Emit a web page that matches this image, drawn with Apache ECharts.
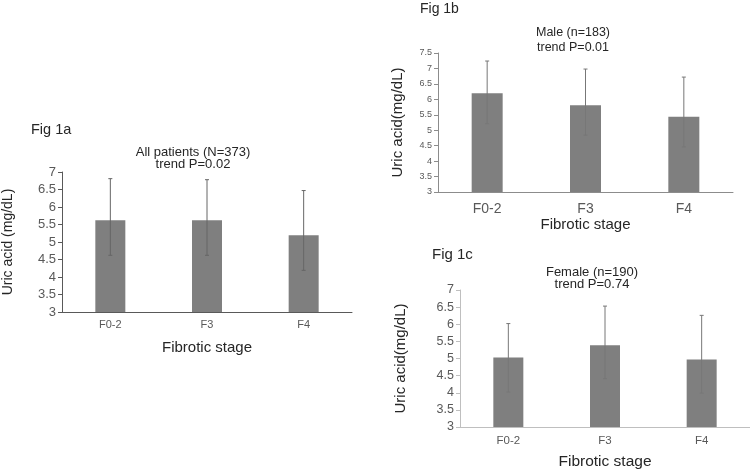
<!DOCTYPE html>
<html>
<head>
<meta charset="utf-8">
<script src="https://cdn.jsdelivr.net/npm/echarts@6/dist/echarts.min.js"></script>
<style>html,body{margin:0;padding:0;background:#fff}#c{width:750px;height:471px}</style>
</head>
<body>
<div id="c"></div>
<script>
var categories = ['F0-2', 'F3', 'F4'];
// Fig 1a: All patients
var meanA = [5.62, 5.62, 5.19];
var highA = [6.81, 6.78, 6.47];
var lowA  = [4.62, 4.62, 4.19];
// Fig 1b: Male
var meanB = [6.20, 5.81, 5.44];
var highB = [7.24, 6.98, 6.72];
var lowB  = [5.21, 4.84, 4.46];
// Fig 1c: Female
var meanC = [5.03, 5.39, 4.97];
var highC = [6.02, 6.53, 6.26];
var lowC  = [4.02, 4.41, 3.99];
var figLabels = ['Fig 1a', 'Fig 1b', 'Fig 1c'];
var titlesA = ['All patients (N=373)', 'trend P=0.02'];
var titlesB = ['Male (n=183)', 'trend P=0.01'];
var titlesC = ['Female (n=190)', 'trend P=0.74'];
var xName = 'Fibrotic stage';
var yNames = ['Uric acid (mg/dL)', 'Uric acid(mg/dL)', 'Uric acid(mg/dL)'];

var FONT = '"Liberation Sans", Arial, sans-serif';
var chart = echarts.init(document.getElementById('c'));

function errData(low, high) {
  return categories.map(function (c, i) { return [i, low[i], high[i]]; });
}
function errSeries(idx, low, high, color) {
  return {
    type: 'custom', xAxisIndex: idx, yAxisIndex: idx, z: 5,
    data: errData(low, high),
    renderItem: function (params, api) {
      var p1 = api.coord([api.value(0), api.value(1)]);
      var p2 = api.coord([api.value(0), api.value(2)]);
      var st = { stroke: color, lineWidth: 1 };
      return { type: 'group', children: [
        { type: 'line', shape: { x1: p1[0], y1: p1[1], x2: p2[0], y2: p2[1] }, style: st },
        { type: 'line', shape: { x1: p2[0] - 2, y1: p2[1], x2: p2[0] + 2, y2: p2[1] }, style: st },
        { type: 'line', shape: { x1: p1[0] - 2, y1: p1[1], x2: p1[0] + 2, y2: p1[1] }, style: st }
      ]};
    }
  };
}
function xAxis(idx, axisColor, labelSize, margin, nameSize, nameGap) {
  return {
    type: 'category', gridIndex: idx, data: categories,
    axisLine: { lineStyle: { color: axisColor } },
    axisTick: { lineStyle: { color: axisColor }, length: 4 },
    axisLabel: { color: '#595959', fontSize: labelSize, margin: margin, fontFamily: FONT },
    name: xName, nameLocation: 'middle', nameGap: nameGap,
    nameTextStyle: { color: '#262626', fontSize: nameSize, fontFamily: FONT }
  };
}
function yAxis(idx, max, axisColor, labelSize, nameIdx, nameSize, nameGap) {
  return {
    type: 'value', gridIndex: idx, min: 3, max: max, interval: 0.5,
    splitLine: { show: false },
    axisLine: { show: true, lineStyle: { color: axisColor } },
    axisTick: { show: true, lineStyle: { color: axisColor }, length: 4 },
    axisLabel: { color: '#595959', fontSize: labelSize, margin: 6, fontFamily: FONT },
    name: yNames[nameIdx], nameLocation: 'middle', nameGap: nameGap,
    nameTextStyle: { color: '#262626', fontSize: nameSize, fontFamily: FONT }
  };
}
function txt(t, x, y, size, color) {
  return { type: 'text', x: x, y: y, style: { text: t, x: 0, y: 0, fill: color || '#262626', fontSize: size, fontFamily: FONT, align: 'center', verticalAlign: 'middle' } };
}
function txtL(t, x, y, size) {
  return { type: 'text', x: x, y: y, style: { text: t, fill: '#262626', fontSize: size, fontFamily: FONT, align: 'left', verticalAlign: 'middle' } };
}

var barColor = '#7f7f7f';
chart.setOption({
  animation: false,
  backgroundColor: '#fff',
  grid: [
    { left: 62, top: 172, width: 290, height: 140 },
    { left: 438, top: 53, width: 295, height: 139 },
    { left: 460, top: 290, width: 290, height: 138 }
  ],
  xAxis: [
    xAxis(0, '#595959', 11, 7, 15, 28),
    xAxis(1, '#8c8c8c', 14, 10, 15, 22),
    xAxis(2, '#bfbfbf', 11.5, 8, 15.5, 27)
  ],
  yAxis: [
    yAxis(0, 7, '#595959', 13, 0, 14, 47),
    yAxis(1, 7.5, '#8c8c8c', 9, 1, 15, 33),
    yAxis(2, 7, '#bfbfbf', 12.5, 2, 15, 52)
  ],
  series: [
    { type: 'bar', xAxisIndex: 0, yAxisIndex: 0, data: meanA, barWidth: 30, itemStyle: { color: barColor } },
    { type: 'bar', xAxisIndex: 1, yAxisIndex: 1, data: meanB, barWidth: 31, itemStyle: { color: barColor } },
    { type: 'bar', xAxisIndex: 2, yAxisIndex: 2, data: meanC, barWidth: 30, itemStyle: { color: barColor } },
    errSeries(0, lowA, highA, '#666666'),
    errSeries(1, lowB, highB, '#777777'),
    errSeries(2, lowC, highC, '#777777')
  ],
  graphic: [
    txtL(figLabels[0], 31, 130, 14.5),
    txtL(figLabels[1], 420, 9, 14),
    txtL(figLabels[2], 432, 255, 15),
    txt(titlesA[0], 193, 152, 13),
    txt(titlesA[1], 193, 164, 13),
    txt(titlesB[0], 573, 33, 12.5),
    txt(titlesB[1], 573, 48, 12.5),
    txt(titlesC[0], 592, 272, 13),
    txt(titlesC[1], 592, 284, 13)
  ]
});
</script>
</body>
</html>
